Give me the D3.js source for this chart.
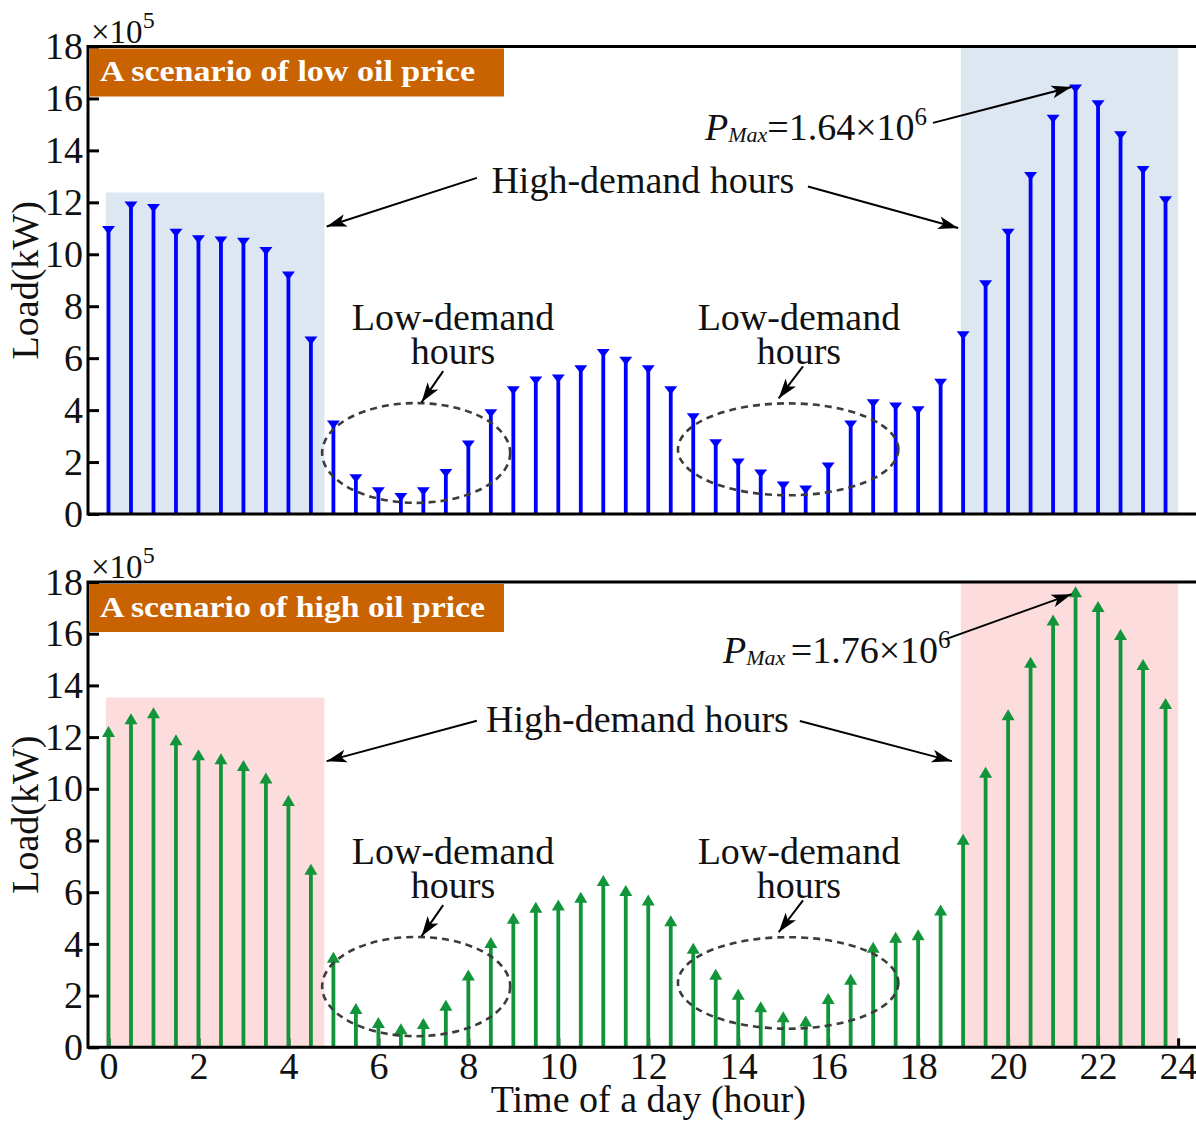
<!DOCTYPE html>
<html>
<head>
<meta charset="utf-8">
<script src="https://cdn.jsdelivr.net/npm/d3@7"></script>
<style>
  html, body { margin: 0; padding: 0; background: #fff; }
  svg { display: block; }
</style>
</head>
<body>
<svg id="chart" width="1196" height="1122"></svg>
<script>
// Half-hour time steps of the day (hour)
const hours = [0, 0.5, 1, 1.5, 2, 2.5, 3, 3.5, 4, 4.5, 5, 5.5, 6, 6.5, 7, 7.5,
  8, 8.5, 9, 9.5, 10, 10.5, 11, 11.5, 12, 12.5, 13, 13.5, 14, 14.5, 15, 15.5,
  16, 16.5, 17, 17.5, 18, 18.5, 19, 19.5, 20, 20.5, 21, 21.5, 22, 22.5, 23, 23.5];

// Load in units of 1e5 kW, low oil price scenario
const lowOilLoad = [10.95, 11.9, 11.8, 10.85, 10.6, 10.55, 10.5, 10.15, 9.2, 6.7,
  3.47, 1.4, 0.9, 0.67, 0.9, 1.6, 2.7, 3.9, 4.78, 5.16,
  5.24, 5.59, 6.22, 5.92, 5.59, 4.78, 3.74, 2.74, 2.0, 1.58,
  1.12, 0.96, 1.85, 3.47, 4.28, 4.16, 4.01, 5.07, 6.9, 8.87,
  10.85, 13.03, 15.24, 16.4, 15.8, 14.6, 13.26, 12.1];

// Load in units of 1e5 kW, high oil price scenario
const highOilLoad = [12.2, 12.69, 12.92, 11.88, 11.3, 11.14, 10.88, 10.4, 9.53, 6.87,
  3.46, 1.48, 0.94, 0.7, 0.9, 1.61, 2.78, 4.03, 4.97, 5.4,
  5.49, 5.79, 6.43, 6.05, 5.68, 4.88, 3.81, 2.81, 2.03, 1.55,
  1.16, 1.0, 1.87, 2.61, 3.85, 4.24, 4.33, 5.29, 8.03, 10.62,
  12.85, 14.88, 16.51, 17.6, 17.03, 15.95, 14.79, 13.28];

const yTicks = [0, 2, 4, 6, 8, 10, 12, 14, 16, 18];
const xTickLabels = [0, 2, 4, 6, 8, 10, 12, 14, 16, 18, 20, 22, 24];
const xAxisEnd = 23.78;   // visible right limit of the time axis, carries the "24" label

// High-demand windows (hours) and the height of their shading (1e5 kW)
const lowShades = [{ x0: -0.06, x1: 4.8, top: 12.38 }, { x0: 18.95, x1: 23.78, top: 18 }];
const highShades = [{ x0: -0.06, x1: 4.8, top: 13.53 }, { x0: 18.95, x1: 23.78, top: 18 }];

// Low-demand dashed ellipses: centre (hour, load), radii (hour, load), label and arrow
const lowDemandRings = [
  { cx: 6.84, cy: 2.35, rx: 2.09, ry: 1.92, lx: 7.66, ax0: 7.44, ay0: 5.5, ax1: 6.96, ay1: 4.3 },
  { cx: 15.11, cy: 2.49, rx: 2.45, ry: 1.77, lx: 15.35, ax0: 15.44, ay0: 5.68, ax1: 14.9, ay1: 4.45 }
];

const serif = "'Liberation Serif', 'Times New Roman', Times, serif";
const axisX = 88;
const frameRight = 1210;

const panels = [
  {
    title: "A scenario of low oil price", titleLen: 375,
    values: lowOilLoad, color: "#0000ff", shadeColor: "#dce7f1", shades: lowShades,
    yBottom: 514, yTop: 46.5, pointDown: true, showX: false,
    pmax: "1.64", pmaxGap: "", pmaxText: { x: 13.26, y: 14.41 }, pmaxArrow: [18.33, 15.06, 21.41, 16.44],
    highText: { x: 11.88, y: 12.37 },
    highArrows: [[8.19, 12.94, 4.85, 11.07], [15.55, 12.61, 18.89, 11.01]]
  },
  {
    title: "A scenario of high oil price", titleLen: 385,
    values: highOilLoad, color: "#12953a", shadeColor: "#fcdcdc", shades: highShades,
    yBottom: 1047.3, yTop: 582, pointDown: false, showX: true,
    pmax: "1.76", pmaxGap: " ", pmaxText: { x: 13.66, y: 14.86 }, pmaxArrow: [18.6, 15.78, 21.41, 17.53],
    highText: { x: 11.76, y: 12.18 },
    highArrows: [[8.19, 12.63, 4.85, 11.07], [15.37, 12.62, 18.75, 11.07]]
  }
];

const svg = d3.select("#chart");

svg.append("defs").append("marker")
  .attr("id", "arrowHead")
  .attr("viewBox", "-22 -8 24 16")
  .attr("refX", 0).attr("refY", 0)
  .attr("markerWidth", 24).attr("markerHeight", 16)
  .attr("markerUnits", "userSpaceOnUse")
  .attr("orient", "auto")
  .append("path")
  .attr("d", "M0,0 L-20,-6.5 L-15,0 L-20,6.5 Z")
  .attr("fill", "#000");

const x = d3.scaleLinear().domain([0, 24]).range([108.5, 108.5 + 24 * 44.98]);

panels.forEach(p => {
  const y = d3.scaleLinear().domain([0, 18]).range([p.yBottom, p.yTop]);
  const g = svg.append("g");

  // high-demand shading
  g.selectAll("rect.shade").data(p.shades).join("rect")
    .attr("class", "shade")
    .attr("x", d => x(d.x0))
    .attr("width", d => x(d.x1) - x(d.x0))
    .attr("y", d => y(d.top))
    .attr("height", d => y(0) - y(d.top))
    .attr("fill", p.shadeColor);

  // scenario banner
  g.append("rect")
    .attr("x", axisX + 2).attr("y", y(18) + 2)
    .attr("width", 414).attr("height", 48)
    .attr("fill", "#c96302");
  g.append("text")
    .attr("x", axisX + 12).attr("y", y(18) + 34.5)
    .attr("font-family", serif).attr("font-weight", "bold")
    .attr("font-size", 30).attr("fill", "#fff")
    .attr("textLength", p.titleLen).attr("lengthAdjust", "spacingAndGlyphs")
    .text(p.title);

  // y axis with inward ticks
  const ya = g.append("g")
    .attr("transform", `translate(${axisX},0)`)
    .call(d3.axisLeft(y).tickValues(yTicks).tickSizeInner(-11).tickSizeOuter(0).tickPadding(5))
    .attr("font-family", serif).attr("font-size", 38);
  ya.select(".domain").remove();
  ya.selectAll(".tick line").attr("stroke", "#000").attr("stroke-width", 3);
  ya.selectAll(".tick text").attr("fill", "#111");

  // exponent of the load axis
  const ex = g.append("text")
    .attr("x", axisX + 3).attr("y", y(18) - 4)
    .attr("font-family", serif).attr("font-size", 33).attr("fill", "#111");
  ex.append("tspan").text("×10");
  ex.append("tspan").attr("font-size", 24).attr("dy", -15).text("5");

  // axis title
  g.append("text")
    .attr("transform", `translate(38,${(y(0) + y(18)) / 2}) rotate(-90)`)
    .attr("text-anchor", "middle")
    .attr("font-family", serif).attr("font-size", 38).attr("fill", "#111")
    .text("Load(kW)");

  if (p.showX) {
    const tickPos = xTickLabels.map(v => Math.min(v, xAxisEnd));
    const xa = g.append("g")
      .attr("transform", `translate(0,${y(0)})`)
      .call(d3.axisBottom(x).tickValues(tickPos)
        .tickFormat((d, i) => xTickLabels[i])
        .tickSizeInner(-9).tickSizeOuter(0).tickPadding(5))
      .attr("font-family", serif).attr("font-size", 38);
    xa.select(".domain").remove();
    xa.selectAll(".tick line").attr("stroke", "#000").attr("stroke-width", 3);
    xa.selectAll(".tick text").attr("fill", "#111");

    g.append("text")
      .attr("x", x(12)).attr("y", y(0) + 65)
      .attr("text-anchor", "middle")
      .attr("font-family", serif).attr("font-size", 38).attr("fill", "#111")
      .text("Time of a day (hour)");
  }

  // stems
  const pts = hours.map((h, i) => ({ h, v: p.values[i] }));
  g.selectAll("line.stem").data(pts).join("line")
    .attr("class", "stem")
    .attr("x1", d => x(d.h)).attr("x2", d => x(d.h))
    .attr("y1", y(0)).attr("y2", d => y(d.v))
    .attr("stroke", p.color).attr("stroke-width", 3.8);

  const tri = p.pointDown ? "M-6.5,-3.5 L6.5,-3.5 L0,5 Z" : "M0,-6 L6.5,5 L-6.5,5 Z";
  g.selectAll("path.mark").data(pts).join("path")
    .attr("class", "mark")
    .attr("transform", d => `translate(${x(d.h)},${y(d.v)})`)
    .attr("d", tri)
    .attr("fill", p.color);

  // frame: top border, left and bottom axes
  g.append("path")
    .attr("d", `M${frameRight},${y(18)} H${axisX} V${y(0)} H${frameRight}`)
    .attr("fill", "none").attr("stroke", "#000").attr("stroke-width", 3);

  // low-demand rings and labels
  lowDemandRings.forEach(r => {
    g.append("ellipse")
      .attr("cx", x(r.cx)).attr("cy", y(r.cy))
      .attr("rx", x(r.rx) - x(0)).attr("ry", y(0) - y(r.ry))
      .attr("fill", "none").attr("stroke", "#3c3c3c")
      .attr("stroke-width", 2.6).attr("stroke-dasharray", "7,5");
    const t = g.append("text")
      .attr("text-anchor", "middle")
      .attr("font-family", serif).attr("font-size", 38).attr("fill", "#111");
    t.append("tspan").attr("x", x(r.lx)).attr("y", y(7.1)).text("Low-demand");
    t.append("tspan").attr("x", x(r.lx)).attr("y", y(5.77)).text("hours");
    g.append("line")
      .attr("x1", x(r.ax0)).attr("y1", y(r.ay0))
      .attr("x2", x(r.ax1)).attr("y2", y(r.ay1))
      .attr("stroke", "#000").attr("stroke-width", 2)
      .attr("marker-end", "url(#arrowHead)");
  });

  // high-demand label and arrows
  g.append("text")
    .attr("x", x(p.highText.x)).attr("y", y(p.highText.y))
    .attr("text-anchor", "middle")
    .attr("font-family", serif).attr("font-size", 38).attr("fill", "#111")
    .text("High-demand hours");
  p.highArrows.forEach(a => {
    g.append("line")
      .attr("x1", x(a[0])).attr("y1", y(a[1]))
      .attr("x2", x(a[2])).attr("y2", y(a[3]))
      .attr("stroke", "#000").attr("stroke-width", 2)
      .attr("marker-end", "url(#arrowHead)");
  });

  // peak load annotation
  const pm = g.append("text")
    .attr("x", x(p.pmaxText.x)).attr("y", y(p.pmaxText.y))
    .attr("font-family", serif).attr("font-size", 38).attr("fill", "#111");
  pm.append("tspan").attr("font-style", "italic").text("P");
  pm.append("tspan").attr("font-style", "italic").attr("font-size", 22).attr("dy", 2).text("Max" + p.pmaxGap);
  pm.append("tspan").attr("dy", -2).text("=" + p.pmax + "×10");
  pm.append("tspan").attr("font-size", 25).attr("dy", -15).text("6");
  const pa = p.pmaxArrow;
  g.append("line")
    .attr("x1", x(pa[0])).attr("y1", y(pa[1]))
    .attr("x2", x(pa[2])).attr("y2", y(pa[3]))
    .attr("stroke", "#000").attr("stroke-width", 2)
    .attr("marker-end", "url(#arrowHead)");
});
</script>
</body>
</html>
